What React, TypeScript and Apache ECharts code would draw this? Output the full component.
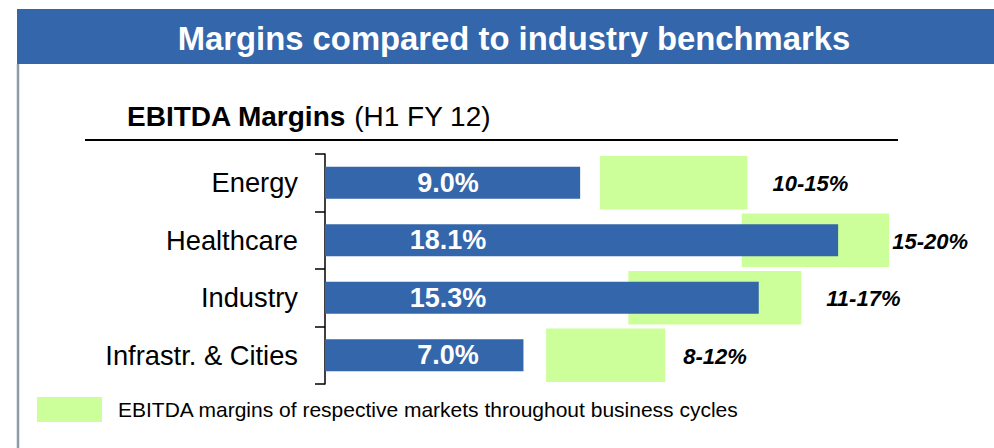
import React, { useEffect, useRef } from "react";
import * as echarts from "echarts";

const categories = ["Energy", "Healthcare", "Industry", "Infrastr. & Cities"];
const marginValues = [9.0, 18.1, 15.3, 7.0];
const benchLow = [9.7, 14.7, 10.7, 7.8];
const benchHigh = [14.9, 19.9, 16.8, 12.0];
const benchLabels = ["10-15%", "15-20%", "11-17%", "8-12%"];
const titleText = "Margins compared to industry benchmarks";
const legendText = "EBITDA margins of respective markets throughout business cycles";

const FONT = "'Liberation Sans', Arial, Helvetica, sans-serif";
const BLUE = "#3366AA";
const GREEN = "#CCFF99";
const labelGaps = [25, 3, 25, 18];

export default function App() {
  const ref = useRef<HTMLDivElement>(null);
  useEffect(() => {
    if (!ref.current) return;
    const chart = echarts.init(ref.current, undefined, { renderer: "svg" });
    const benchData = categories.map((_, i) => [benchLow[i], benchHigh[i], i]);
    chart.setOption({
      animation: false,
      backgroundColor: "#ffffff",
      grid: { left: 325, top: 154, width: 567, height: 230 },
      xAxis: { type: "value", min: 0, max: 20, show: false },
      yAxis: {
        type: "category",
        data: categories,
        inverse: true,
        axisLine: { show: true, lineStyle: { color: "#000", width: 1.5 } },
        axisTick: { show: true, length: 10, lineStyle: { color: "#000", width: 1.5 } },
        axisLabel: { margin: 27, fontSize: 27.3, color: "#000", fontFamily: FONT },
        splitLine: { show: false },
      },
      series: [
        {
          type: "custom",
          z: 1,
          data: benchData,
          encode: { x: [0, 1], y: 2 },
          renderItem: (params: any, api: any) => {
            const idx = api.value(2);
            const s = api.coord([api.value(0), idx]);
            const e = api.coord([api.value(1), idx]);
            const h = api.size([0, 1])[1] * 0.93;
            return {
              type: "group",
              children: [
                {
                  type: "rect",
                  shape: { x: s[0], y: s[1] - h / 2, width: e[0] - s[0], height: h },
                  style: { fill: GREEN },
                },
                {
                  type: "text",
                  style: {
                    text: benchLabels[idx],
                    x: e[0] + labelGaps[idx],
                    y: s[1] + 1,
                    fill: "#000",
                    font: `italic bold 22px ${FONT}`,
                    align: "left",
                    verticalAlign: "middle",
                  },
                },
              ],
            };
          },
        },
        {
          type: "bar",
          z: 3,
          data: marginValues,
          barWidth: 32,
          itemStyle: { color: BLUE },
          label: {
            show: true,
            position: [123, "50%"],
            align: "center",
            verticalAlign: "middle",
            color: "#fff",
            fontWeight: "bold",
            fontSize: 27,
            fontFamily: FONT,
            formatter: (p: any) => p.value.toFixed(1) + "%",
          },
        },
      ],
      graphic: [
        { type: "rect", shape: { x: 17, y: 9, width: 977, height: 55 }, style: { fill: BLUE } },
        {
          type: "text",
          x: 514,
          y: 38,
          style: {
            text: titleText,
            fill: "#fff",
            font: `bold 32.8px ${FONT}`,
            align: "center",
            verticalAlign: "middle",
          },
        },
        {
          type: "line",
          shape: { x1: 18, y1: 64, x2: 18, y2: 448 },
          style: { stroke: "#8C9DAA", lineWidth: 2.5 },
        },
        {
          type: "text",
          x: 127,
          y: 116,
          style: {
            text: "{b|EBITDA Margins} {r|(H1 FY 12)}",
            rich: {
              b: { fontWeight: "bold", fontSize: 28, fontFamily: FONT, fill: "#000" },
              r: { fontSize: 28, fontFamily: FONT, fill: "#000" },
            },
            fill: "#000",
            font: `28px ${FONT}`,
            align: "left",
            verticalAlign: "middle",
          },
        },
        {
          type: "line",
          shape: { x1: 85, y1: 140, x2: 898, y2: 140 },
          style: { stroke: "#000", lineWidth: 2 },
        },
        { type: "rect", shape: { x: 37, y: 397, width: 65, height: 25 }, style: { fill: GREEN } },
        {
          type: "text",
          x: 118,
          y: 409,
          style: {
            text: legendText,
            fill: "#000",
            font: `21px ${FONT}`,
            align: "left",
            verticalAlign: "middle",
          },
        },
      ],
    });
    return () => chart.dispose();
  }, []);
  return (
    <div
      ref={ref}
      style={{ position: "fixed", left: 0, top: 0, width: 994, height: 448 }}
    />
  );
}
